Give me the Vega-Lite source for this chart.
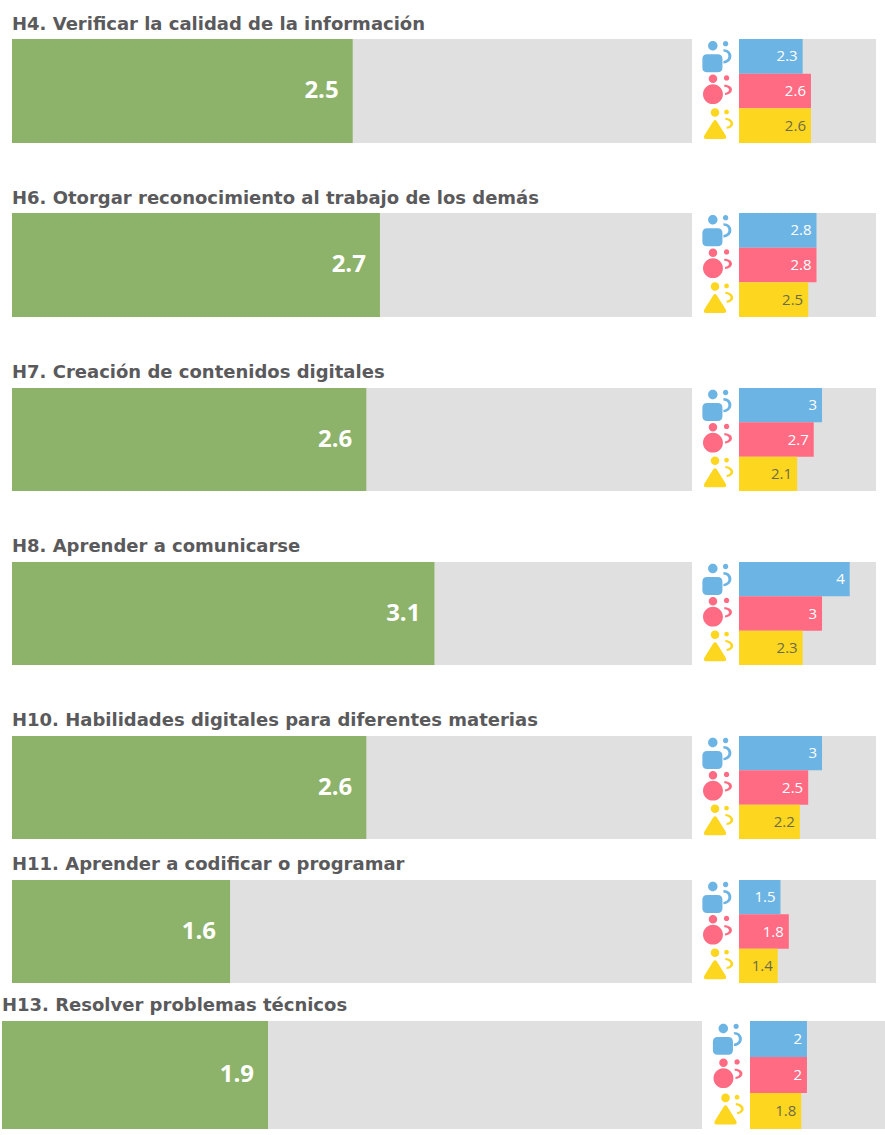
{"$schema":"https://vega.github.io/schema/vega-lite/v6.json","padding":{"left":2,"top":16,"right":0,"bottom":0},"background":"white",
"config":{"view":{"stroke":null},"title":{"anchor":"start","frame":"group","font":"DejaVu Sans","fontWeight":"bold","fontSize":18,"color":"#5a5a5c"}},
"datasets":{"general":[{"h":"H4","value":2.5},{"h":"H6","value":2.7},{"h":"H7","value":2.6},{"h":"H8","value":3.1},{"h":"H10","value":2.6},{"h":"H11","value":1.6},{"h":"H13","value":1.9}],
"grupos":[{"h":"H4","grupo":"azul","value":2.3},{"h":"H4","grupo":"rosa","value":2.6},{"h":"H4","grupo":"amarillo","value":2.6},{"h":"H6","grupo":"azul","value":2.8},{"h":"H6","grupo":"rosa","value":2.8},{"h":"H6","grupo":"amarillo","value":2.5},{"h":"H7","grupo":"azul","value":3},{"h":"H7","grupo":"rosa","value":2.7},{"h":"H7","grupo":"amarillo","value":2.1},{"h":"H8","grupo":"azul","value":4},{"h":"H8","grupo":"rosa","value":3},{"h":"H8","grupo":"amarillo","value":2.3},{"h":"H10","grupo":"azul","value":3},{"h":"H10","grupo":"rosa","value":2.5},{"h":"H10","grupo":"amarillo","value":2.2},{"h":"H11","grupo":"azul","value":1.5},{"h":"H11","grupo":"rosa","value":1.8},{"h":"H11","grupo":"amarillo","value":1.4},{"h":"H13","grupo":"azul","value":2},{"h":"H13","grupo":"rosa","value":2},{"h":"H13","grupo":"amarillo","value":1.8}]},
"spacing":17,
"vconcat":[
{"spacing":47,"vconcat":[
{"spacing":0,"hconcat":[
{"title":{"text":"H4. Verificar la calidad de la información","dx":10,"offset":5},"width":690,"height":104,"data":{"name":"general"},"transform":[{"filter":"datum.h==='H4'"}],"layer":[
{"mark":{"type":"rect","color":"#e0e0e0"},"encoding":{"x":{"datum":4.99,"type":"quantitative","axis":null,"scale":{"domain":[0,4.99],"range":[10,690]}},"x2":{"datum":0}}},
{"mark":{"type":"rect","color":"#8db26a"},"encoding":{"x":{"field":"value","type":"quantitative","axis":null,"scale":{"domain":[0,4.99],"range":[10,690]}},"x2":{"datum":0}}},
{"mark":{"type":"text","align":"right","dx":-14,"font":"Open Sans","fontWeight":"bold","fontSize":24,"color":"white"},"encoding":{"x":{"field":"value","type":"quantitative","axis":null,"scale":{"domain":[0,4.99],"range":[10,690]}},"text":{"field":"value","type":"quantitative"}}}]},
{"width":47,"height":104,"data":{"name":"grupos"},"transform":[{"filter":"datum.h==='H4'"}],"mark":{"type":"point","filled":true,"opacity":1,"size":1000},"encoding":{"y":{"field":"grupo","type":"nominal","axis":null,"scale":{"domain":["azul","rosa","amarillo"],"paddingInner":0,"paddingOuter":0}},"color":{"field":"grupo","type":"nominal","legend":null,"scale":{"domain":["azul","rosa","amarillo"],"range":["#6cb4e4","#ff6b83","#fdd71f"]}},"shape":{"field":"grupo","type":"nominal","legend":null,"scale":{"domain":["azul","rosa","amarillo"],"range":["M -.47 -.67 a .3 .3 0 1 0 .6 0 a .3 .3 0 1 0 -.6 0 Z M .47 -.8 a .17 .17 0 1 0 .34 0 a .17 .17 0 1 0 -.34 0 Z M -.53 -.13 L .14 -.13 Q .44 -.13 .44 .17 L .44 .7 Q .44 1 .14 1 L -.53 1 Q -.83 1 -.83 .7 L -.83 .17 Q -.83 -.13 -.53 -.13 Z M .5 -.45 C 1.15 -.45 1.2 .4 .5 .45 L .5 .3 C .95 .25 .9 -.3 .5 -.3 Z","M -.43 -.77 a .27 .27 0 1 0 .54 0 a .27 .27 0 1 0 -.54 0 Z M .53 -.83 a .17 .17 0 1 0 .34 0 a .17 .17 0 1 0 -.34 0 Z M -.79 .2 a .63 .63 0 1 0 1.26 0 a .63 .63 0 1 0 -1.26 0 Z M .55 -.4 C 1.2 -.4 1.2 .2 .6 .25 L .6 .12 C .95 .08 .95 -.25 .55 -.27 Z","M -.3 -.83 a .27 .27 0 1 0 .54 0 a .27 .27 0 1 0 -.54 0 Z M .55 -.87 a .15 .15 0 1 0 .3 0 a .15 .15 0 1 0 -.3 0 Z M -.13 -.3 Q -.03 -.42 .07 -.3 L .62 .58 Q .78 .85 .5 .85 L -.56 .85 Q -.84 .85 -.68 .58 Z M .62 -.5 C 1.25 -.45 1.3 .15 .7 .2 L .7 .07 C 1.05 .02 1.05 -.3 .62 -.37 Z"]}}}},
{"width":137,"height":104,"view":{"fill":"#e0e0e0","stroke":null},"data":{"name":"grupos"},"transform":[{"filter":"datum.h==='H4'"}],"encoding":{"y":{"field":"grupo","type":"nominal","axis":null,"scale":{"domain":["azul","rosa","amarillo"],"paddingInner":0,"paddingOuter":0}},"x":{"field":"value","type":"quantitative","axis":null,"scale":{"domain":[0,4.95]}}},"layer":[
{"mark":{"type":"bar"},"encoding":{"color":{"field":"grupo","type":"nominal","legend":null,"scale":{"domain":["azul","rosa","amarillo"],"range":["#6cb4e4","#ff6b83","#fdd71f"]}}}},
{"mark":{"type":"text","align":"right","dx":-5,"font":"Open Sans","fontSize":15},"encoding":{"text":{"field":"value","type":"quantitative"},"color":{"condition":{"test":"datum.grupo==='amarillo'","value":"#6e6b4a"},"value":"white"}}}]}]},
{"spacing":0,"hconcat":[
{"title":{"text":"H6. Otorgar reconocimiento al trabajo de los demás","dx":10,"offset":5},"width":690,"height":104,"data":{"name":"general"},"transform":[{"filter":"datum.h==='H6'"}],"layer":[
{"mark":{"type":"rect","color":"#e0e0e0"},"encoding":{"x":{"datum":4.99,"type":"quantitative","axis":null,"scale":{"domain":[0,4.99],"range":[10,690]}},"x2":{"datum":0}}},
{"mark":{"type":"rect","color":"#8db26a"},"encoding":{"x":{"field":"value","type":"quantitative","axis":null,"scale":{"domain":[0,4.99],"range":[10,690]}},"x2":{"datum":0}}},
{"mark":{"type":"text","align":"right","dx":-14,"font":"Open Sans","fontWeight":"bold","fontSize":24,"color":"white"},"encoding":{"x":{"field":"value","type":"quantitative","axis":null,"scale":{"domain":[0,4.99],"range":[10,690]}},"text":{"field":"value","type":"quantitative"}}}]},
{"width":47,"height":104,"data":{"name":"grupos"},"transform":[{"filter":"datum.h==='H6'"}],"mark":{"type":"point","filled":true,"opacity":1,"size":1000},"encoding":{"y":{"field":"grupo","type":"nominal","axis":null,"scale":{"domain":["azul","rosa","amarillo"],"paddingInner":0,"paddingOuter":0}},"color":{"field":"grupo","type":"nominal","legend":null,"scale":{"domain":["azul","rosa","amarillo"],"range":["#6cb4e4","#ff6b83","#fdd71f"]}},"shape":{"field":"grupo","type":"nominal","legend":null,"scale":{"domain":["azul","rosa","amarillo"],"range":["M -.47 -.67 a .3 .3 0 1 0 .6 0 a .3 .3 0 1 0 -.6 0 Z M .47 -.8 a .17 .17 0 1 0 .34 0 a .17 .17 0 1 0 -.34 0 Z M -.53 -.13 L .14 -.13 Q .44 -.13 .44 .17 L .44 .7 Q .44 1 .14 1 L -.53 1 Q -.83 1 -.83 .7 L -.83 .17 Q -.83 -.13 -.53 -.13 Z M .5 -.45 C 1.15 -.45 1.2 .4 .5 .45 L .5 .3 C .95 .25 .9 -.3 .5 -.3 Z","M -.43 -.77 a .27 .27 0 1 0 .54 0 a .27 .27 0 1 0 -.54 0 Z M .53 -.83 a .17 .17 0 1 0 .34 0 a .17 .17 0 1 0 -.34 0 Z M -.79 .2 a .63 .63 0 1 0 1.26 0 a .63 .63 0 1 0 -1.26 0 Z M .55 -.4 C 1.2 -.4 1.2 .2 .6 .25 L .6 .12 C .95 .08 .95 -.25 .55 -.27 Z","M -.3 -.83 a .27 .27 0 1 0 .54 0 a .27 .27 0 1 0 -.54 0 Z M .55 -.87 a .15 .15 0 1 0 .3 0 a .15 .15 0 1 0 -.3 0 Z M -.13 -.3 Q -.03 -.42 .07 -.3 L .62 .58 Q .78 .85 .5 .85 L -.56 .85 Q -.84 .85 -.68 .58 Z M .62 -.5 C 1.25 -.45 1.3 .15 .7 .2 L .7 .07 C 1.05 .02 1.05 -.3 .62 -.37 Z"]}}}},
{"width":137,"height":104,"view":{"fill":"#e0e0e0","stroke":null},"data":{"name":"grupos"},"transform":[{"filter":"datum.h==='H6'"}],"encoding":{"y":{"field":"grupo","type":"nominal","axis":null,"scale":{"domain":["azul","rosa","amarillo"],"paddingInner":0,"paddingOuter":0}},"x":{"field":"value","type":"quantitative","axis":null,"scale":{"domain":[0,4.95]}}},"layer":[
{"mark":{"type":"bar"},"encoding":{"color":{"field":"grupo","type":"nominal","legend":null,"scale":{"domain":["azul","rosa","amarillo"],"range":["#6cb4e4","#ff6b83","#fdd71f"]}}}},
{"mark":{"type":"text","align":"right","dx":-5,"font":"Open Sans","fontSize":15},"encoding":{"text":{"field":"value","type":"quantitative"},"color":{"condition":{"test":"datum.grupo==='amarillo'","value":"#6e6b4a"},"value":"white"}}}]}]},
{"spacing":0,"hconcat":[
{"title":{"text":"H7. Creación de contenidos digitales","dx":10,"offset":6},"width":690,"height":103,"data":{"name":"general"},"transform":[{"filter":"datum.h==='H7'"}],"layer":[
{"mark":{"type":"rect","color":"#e0e0e0"},"encoding":{"x":{"datum":4.99,"type":"quantitative","axis":null,"scale":{"domain":[0,4.99],"range":[10,690]}},"x2":{"datum":0}}},
{"mark":{"type":"rect","color":"#8db26a"},"encoding":{"x":{"field":"value","type":"quantitative","axis":null,"scale":{"domain":[0,4.99],"range":[10,690]}},"x2":{"datum":0}}},
{"mark":{"type":"text","align":"right","dx":-14,"font":"Open Sans","fontWeight":"bold","fontSize":24,"color":"white"},"encoding":{"x":{"field":"value","type":"quantitative","axis":null,"scale":{"domain":[0,4.99],"range":[10,690]}},"text":{"field":"value","type":"quantitative"}}}]},
{"width":47,"height":103,"data":{"name":"grupos"},"transform":[{"filter":"datum.h==='H7'"}],"mark":{"type":"point","filled":true,"opacity":1,"size":1000},"encoding":{"y":{"field":"grupo","type":"nominal","axis":null,"scale":{"domain":["azul","rosa","amarillo"],"paddingInner":0,"paddingOuter":0}},"color":{"field":"grupo","type":"nominal","legend":null,"scale":{"domain":["azul","rosa","amarillo"],"range":["#6cb4e4","#ff6b83","#fdd71f"]}},"shape":{"field":"grupo","type":"nominal","legend":null,"scale":{"domain":["azul","rosa","amarillo"],"range":["M -.47 -.67 a .3 .3 0 1 0 .6 0 a .3 .3 0 1 0 -.6 0 Z M .47 -.8 a .17 .17 0 1 0 .34 0 a .17 .17 0 1 0 -.34 0 Z M -.53 -.13 L .14 -.13 Q .44 -.13 .44 .17 L .44 .7 Q .44 1 .14 1 L -.53 1 Q -.83 1 -.83 .7 L -.83 .17 Q -.83 -.13 -.53 -.13 Z M .5 -.45 C 1.15 -.45 1.2 .4 .5 .45 L .5 .3 C .95 .25 .9 -.3 .5 -.3 Z","M -.43 -.77 a .27 .27 0 1 0 .54 0 a .27 .27 0 1 0 -.54 0 Z M .53 -.83 a .17 .17 0 1 0 .34 0 a .17 .17 0 1 0 -.34 0 Z M -.79 .2 a .63 .63 0 1 0 1.26 0 a .63 .63 0 1 0 -1.26 0 Z M .55 -.4 C 1.2 -.4 1.2 .2 .6 .25 L .6 .12 C .95 .08 .95 -.25 .55 -.27 Z","M -.3 -.83 a .27 .27 0 1 0 .54 0 a .27 .27 0 1 0 -.54 0 Z M .55 -.87 a .15 .15 0 1 0 .3 0 a .15 .15 0 1 0 -.3 0 Z M -.13 -.3 Q -.03 -.42 .07 -.3 L .62 .58 Q .78 .85 .5 .85 L -.56 .85 Q -.84 .85 -.68 .58 Z M .62 -.5 C 1.25 -.45 1.3 .15 .7 .2 L .7 .07 C 1.05 .02 1.05 -.3 .62 -.37 Z"]}}}},
{"width":137,"height":103,"view":{"fill":"#e0e0e0","stroke":null},"data":{"name":"grupos"},"transform":[{"filter":"datum.h==='H7'"}],"encoding":{"y":{"field":"grupo","type":"nominal","axis":null,"scale":{"domain":["azul","rosa","amarillo"],"paddingInner":0,"paddingOuter":0}},"x":{"field":"value","type":"quantitative","axis":null,"scale":{"domain":[0,4.95]}}},"layer":[
{"mark":{"type":"bar"},"encoding":{"color":{"field":"grupo","type":"nominal","legend":null,"scale":{"domain":["azul","rosa","amarillo"],"range":["#6cb4e4","#ff6b83","#fdd71f"]}}}},
{"mark":{"type":"text","align":"right","dx":-5,"font":"Open Sans","fontSize":15},"encoding":{"text":{"field":"value","type":"quantitative"},"color":{"condition":{"test":"datum.grupo==='amarillo'","value":"#6e6b4a"},"value":"white"}}}]}]},
{"spacing":0,"hconcat":[
{"title":{"text":"H8. Aprender a comunicarse","dx":10,"offset":6},"width":690,"height":103,"data":{"name":"general"},"transform":[{"filter":"datum.h==='H8'"}],"layer":[
{"mark":{"type":"rect","color":"#e0e0e0"},"encoding":{"x":{"datum":4.99,"type":"quantitative","axis":null,"scale":{"domain":[0,4.99],"range":[10,690]}},"x2":{"datum":0}}},
{"mark":{"type":"rect","color":"#8db26a"},"encoding":{"x":{"field":"value","type":"quantitative","axis":null,"scale":{"domain":[0,4.99],"range":[10,690]}},"x2":{"datum":0}}},
{"mark":{"type":"text","align":"right","dx":-14,"font":"Open Sans","fontWeight":"bold","fontSize":24,"color":"white"},"encoding":{"x":{"field":"value","type":"quantitative","axis":null,"scale":{"domain":[0,4.99],"range":[10,690]}},"text":{"field":"value","type":"quantitative"}}}]},
{"width":47,"height":103,"data":{"name":"grupos"},"transform":[{"filter":"datum.h==='H8'"}],"mark":{"type":"point","filled":true,"opacity":1,"size":1000},"encoding":{"y":{"field":"grupo","type":"nominal","axis":null,"scale":{"domain":["azul","rosa","amarillo"],"paddingInner":0,"paddingOuter":0}},"color":{"field":"grupo","type":"nominal","legend":null,"scale":{"domain":["azul","rosa","amarillo"],"range":["#6cb4e4","#ff6b83","#fdd71f"]}},"shape":{"field":"grupo","type":"nominal","legend":null,"scale":{"domain":["azul","rosa","amarillo"],"range":["M -.47 -.67 a .3 .3 0 1 0 .6 0 a .3 .3 0 1 0 -.6 0 Z M .47 -.8 a .17 .17 0 1 0 .34 0 a .17 .17 0 1 0 -.34 0 Z M -.53 -.13 L .14 -.13 Q .44 -.13 .44 .17 L .44 .7 Q .44 1 .14 1 L -.53 1 Q -.83 1 -.83 .7 L -.83 .17 Q -.83 -.13 -.53 -.13 Z M .5 -.45 C 1.15 -.45 1.2 .4 .5 .45 L .5 .3 C .95 .25 .9 -.3 .5 -.3 Z","M -.43 -.77 a .27 .27 0 1 0 .54 0 a .27 .27 0 1 0 -.54 0 Z M .53 -.83 a .17 .17 0 1 0 .34 0 a .17 .17 0 1 0 -.34 0 Z M -.79 .2 a .63 .63 0 1 0 1.26 0 a .63 .63 0 1 0 -1.26 0 Z M .55 -.4 C 1.2 -.4 1.2 .2 .6 .25 L .6 .12 C .95 .08 .95 -.25 .55 -.27 Z","M -.3 -.83 a .27 .27 0 1 0 .54 0 a .27 .27 0 1 0 -.54 0 Z M .55 -.87 a .15 .15 0 1 0 .3 0 a .15 .15 0 1 0 -.3 0 Z M -.13 -.3 Q -.03 -.42 .07 -.3 L .62 .58 Q .78 .85 .5 .85 L -.56 .85 Q -.84 .85 -.68 .58 Z M .62 -.5 C 1.25 -.45 1.3 .15 .7 .2 L .7 .07 C 1.05 .02 1.05 -.3 .62 -.37 Z"]}}}},
{"width":137,"height":103,"view":{"fill":"#e0e0e0","stroke":null},"data":{"name":"grupos"},"transform":[{"filter":"datum.h==='H8'"}],"encoding":{"y":{"field":"grupo","type":"nominal","axis":null,"scale":{"domain":["azul","rosa","amarillo"],"paddingInner":0,"paddingOuter":0}},"x":{"field":"value","type":"quantitative","axis":null,"scale":{"domain":[0,4.95]}}},"layer":[
{"mark":{"type":"bar"},"encoding":{"color":{"field":"grupo","type":"nominal","legend":null,"scale":{"domain":["azul","rosa","amarillo"],"range":["#6cb4e4","#ff6b83","#fdd71f"]}}}},
{"mark":{"type":"text","align":"right","dx":-5,"font":"Open Sans","fontSize":15},"encoding":{"text":{"field":"value","type":"quantitative"},"color":{"condition":{"test":"datum.grupo==='amarillo'","value":"#6e6b4a"},"value":"white"}}}]}]},
{"spacing":0,"hconcat":[
{"title":{"text":"H10. Habilidades digitales para diferentes materias","dx":10,"offset":6},"width":690,"height":103,"data":{"name":"general"},"transform":[{"filter":"datum.h==='H10'"}],"layer":[
{"mark":{"type":"rect","color":"#e0e0e0"},"encoding":{"x":{"datum":4.99,"type":"quantitative","axis":null,"scale":{"domain":[0,4.99],"range":[10,690]}},"x2":{"datum":0}}},
{"mark":{"type":"rect","color":"#8db26a"},"encoding":{"x":{"field":"value","type":"quantitative","axis":null,"scale":{"domain":[0,4.99],"range":[10,690]}},"x2":{"datum":0}}},
{"mark":{"type":"text","align":"right","dx":-14,"font":"Open Sans","fontWeight":"bold","fontSize":24,"color":"white"},"encoding":{"x":{"field":"value","type":"quantitative","axis":null,"scale":{"domain":[0,4.99],"range":[10,690]}},"text":{"field":"value","type":"quantitative"}}}]},
{"width":47,"height":103,"data":{"name":"grupos"},"transform":[{"filter":"datum.h==='H10'"}],"mark":{"type":"point","filled":true,"opacity":1,"size":1000},"encoding":{"y":{"field":"grupo","type":"nominal","axis":null,"scale":{"domain":["azul","rosa","amarillo"],"paddingInner":0,"paddingOuter":0}},"color":{"field":"grupo","type":"nominal","legend":null,"scale":{"domain":["azul","rosa","amarillo"],"range":["#6cb4e4","#ff6b83","#fdd71f"]}},"shape":{"field":"grupo","type":"nominal","legend":null,"scale":{"domain":["azul","rosa","amarillo"],"range":["M -.47 -.67 a .3 .3 0 1 0 .6 0 a .3 .3 0 1 0 -.6 0 Z M .47 -.8 a .17 .17 0 1 0 .34 0 a .17 .17 0 1 0 -.34 0 Z M -.53 -.13 L .14 -.13 Q .44 -.13 .44 .17 L .44 .7 Q .44 1 .14 1 L -.53 1 Q -.83 1 -.83 .7 L -.83 .17 Q -.83 -.13 -.53 -.13 Z M .5 -.45 C 1.15 -.45 1.2 .4 .5 .45 L .5 .3 C .95 .25 .9 -.3 .5 -.3 Z","M -.43 -.77 a .27 .27 0 1 0 .54 0 a .27 .27 0 1 0 -.54 0 Z M .53 -.83 a .17 .17 0 1 0 .34 0 a .17 .17 0 1 0 -.34 0 Z M -.79 .2 a .63 .63 0 1 0 1.26 0 a .63 .63 0 1 0 -1.26 0 Z M .55 -.4 C 1.2 -.4 1.2 .2 .6 .25 L .6 .12 C .95 .08 .95 -.25 .55 -.27 Z","M -.3 -.83 a .27 .27 0 1 0 .54 0 a .27 .27 0 1 0 -.54 0 Z M .55 -.87 a .15 .15 0 1 0 .3 0 a .15 .15 0 1 0 -.3 0 Z M -.13 -.3 Q -.03 -.42 .07 -.3 L .62 .58 Q .78 .85 .5 .85 L -.56 .85 Q -.84 .85 -.68 .58 Z M .62 -.5 C 1.25 -.45 1.3 .15 .7 .2 L .7 .07 C 1.05 .02 1.05 -.3 .62 -.37 Z"]}}}},
{"width":137,"height":103,"view":{"fill":"#e0e0e0","stroke":null},"data":{"name":"grupos"},"transform":[{"filter":"datum.h==='H10'"}],"encoding":{"y":{"field":"grupo","type":"nominal","axis":null,"scale":{"domain":["azul","rosa","amarillo"],"paddingInner":0,"paddingOuter":0}},"x":{"field":"value","type":"quantitative","axis":null,"scale":{"domain":[0,4.95]}}},"layer":[
{"mark":{"type":"bar"},"encoding":{"color":{"field":"grupo","type":"nominal","legend":null,"scale":{"domain":["azul","rosa","amarillo"],"range":["#6cb4e4","#ff6b83","#fdd71f"]}}}},
{"mark":{"type":"text","align":"right","dx":-5,"font":"Open Sans","fontSize":15},"encoding":{"text":{"field":"value","type":"quantitative"},"color":{"condition":{"test":"datum.grupo==='amarillo'","value":"#6e6b4a"},"value":"white"}}}]}]}
]},
{"spacing":14,"vconcat":[
{"spacing":0,"hconcat":[
{"title":{"text":"H11. Aprender a codificar o programar","dx":10,"offset":6},"width":690,"height":103,"data":{"name":"general"},"transform":[{"filter":"datum.h==='H11'"}],"layer":[
{"mark":{"type":"rect","color":"#e0e0e0"},"encoding":{"x":{"datum":4.99,"type":"quantitative","axis":null,"scale":{"domain":[0,4.99],"range":[10,690]}},"x2":{"datum":0}}},
{"mark":{"type":"rect","color":"#8db26a"},"encoding":{"x":{"field":"value","type":"quantitative","axis":null,"scale":{"domain":[0,4.99],"range":[10,690]}},"x2":{"datum":0}}},
{"mark":{"type":"text","align":"right","dx":-14,"font":"Open Sans","fontWeight":"bold","fontSize":24,"color":"white"},"encoding":{"x":{"field":"value","type":"quantitative","axis":null,"scale":{"domain":[0,4.99],"range":[10,690]}},"text":{"field":"value","type":"quantitative"}}}]},
{"width":47,"height":103,"data":{"name":"grupos"},"transform":[{"filter":"datum.h==='H11'"}],"mark":{"type":"point","filled":true,"opacity":1,"size":1000},"encoding":{"y":{"field":"grupo","type":"nominal","axis":null,"scale":{"domain":["azul","rosa","amarillo"],"paddingInner":0,"paddingOuter":0}},"color":{"field":"grupo","type":"nominal","legend":null,"scale":{"domain":["azul","rosa","amarillo"],"range":["#6cb4e4","#ff6b83","#fdd71f"]}},"shape":{"field":"grupo","type":"nominal","legend":null,"scale":{"domain":["azul","rosa","amarillo"],"range":["M -.47 -.67 a .3 .3 0 1 0 .6 0 a .3 .3 0 1 0 -.6 0 Z M .47 -.8 a .17 .17 0 1 0 .34 0 a .17 .17 0 1 0 -.34 0 Z M -.53 -.13 L .14 -.13 Q .44 -.13 .44 .17 L .44 .7 Q .44 1 .14 1 L -.53 1 Q -.83 1 -.83 .7 L -.83 .17 Q -.83 -.13 -.53 -.13 Z M .5 -.45 C 1.15 -.45 1.2 .4 .5 .45 L .5 .3 C .95 .25 .9 -.3 .5 -.3 Z","M -.43 -.77 a .27 .27 0 1 0 .54 0 a .27 .27 0 1 0 -.54 0 Z M .53 -.83 a .17 .17 0 1 0 .34 0 a .17 .17 0 1 0 -.34 0 Z M -.79 .2 a .63 .63 0 1 0 1.26 0 a .63 .63 0 1 0 -1.26 0 Z M .55 -.4 C 1.2 -.4 1.2 .2 .6 .25 L .6 .12 C .95 .08 .95 -.25 .55 -.27 Z","M -.3 -.83 a .27 .27 0 1 0 .54 0 a .27 .27 0 1 0 -.54 0 Z M .55 -.87 a .15 .15 0 1 0 .3 0 a .15 .15 0 1 0 -.3 0 Z M -.13 -.3 Q -.03 -.42 .07 -.3 L .62 .58 Q .78 .85 .5 .85 L -.56 .85 Q -.84 .85 -.68 .58 Z M .62 -.5 C 1.25 -.45 1.3 .15 .7 .2 L .7 .07 C 1.05 .02 1.05 -.3 .62 -.37 Z"]}}}},
{"width":137,"height":103,"view":{"fill":"#e0e0e0","stroke":null},"data":{"name":"grupos"},"transform":[{"filter":"datum.h==='H11'"}],"encoding":{"y":{"field":"grupo","type":"nominal","axis":null,"scale":{"domain":["azul","rosa","amarillo"],"paddingInner":0,"paddingOuter":0}},"x":{"field":"value","type":"quantitative","axis":null,"scale":{"domain":[0,4.95]}}},"layer":[
{"mark":{"type":"bar"},"encoding":{"color":{"field":"grupo","type":"nominal","legend":null,"scale":{"domain":["azul","rosa","amarillo"],"range":["#6cb4e4","#ff6b83","#fdd71f"]}}}},
{"mark":{"type":"text","align":"right","dx":-5,"font":"Open Sans","fontSize":15},"encoding":{"text":{"field":"value","type":"quantitative"},"color":{"condition":{"test":"datum.grupo==='amarillo'","value":"#6e6b4a"},"value":"white"}}}]}]},
{"spacing":0,"hconcat":[
{"title":{"text":"H13. Resolver problemas técnicos","offset":6},"width":700,"height":108,"data":{"name":"general"},"transform":[{"filter":"datum.h==='H13'"}],"layer":[
{"mark":{"type":"rect","color":"#e0e0e0"},"encoding":{"x":{"datum":5,"type":"quantitative","axis":null,"scale":{"domain":[0,5],"range":[0,700]}},"x2":{"datum":0}}},
{"mark":{"type":"rect","color":"#8db26a"},"encoding":{"x":{"field":"value","type":"quantitative","axis":null,"scale":{"domain":[0,5],"range":[0,700]}},"x2":{"datum":0}}},
{"mark":{"type":"text","align":"right","dx":-14,"font":"Open Sans","fontWeight":"bold","fontSize":24,"color":"white"},"encoding":{"x":{"field":"value","type":"quantitative","axis":null,"scale":{"domain":[0,5],"range":[0,700]}},"text":{"field":"value","type":"quantitative"}}}]},
{"width":48,"height":108,"data":{"name":"grupos"},"transform":[{"filter":"datum.h==='H13'"}],"mark":{"type":"point","filled":true,"opacity":1,"size":1000},"encoding":{"y":{"field":"grupo","type":"nominal","axis":null,"scale":{"domain":["azul","rosa","amarillo"],"paddingInner":0,"paddingOuter":0}},"color":{"field":"grupo","type":"nominal","legend":null,"scale":{"domain":["azul","rosa","amarillo"],"range":["#6cb4e4","#ff6b83","#fdd71f"]}},"shape":{"field":"grupo","type":"nominal","legend":null,"scale":{"domain":["azul","rosa","amarillo"],"range":["M -.47 -.67 a .3 .3 0 1 0 .6 0 a .3 .3 0 1 0 -.6 0 Z M .47 -.8 a .17 .17 0 1 0 .34 0 a .17 .17 0 1 0 -.34 0 Z M -.53 -.13 L .14 -.13 Q .44 -.13 .44 .17 L .44 .7 Q .44 1 .14 1 L -.53 1 Q -.83 1 -.83 .7 L -.83 .17 Q -.83 -.13 -.53 -.13 Z M .5 -.45 C 1.15 -.45 1.2 .4 .5 .45 L .5 .3 C .95 .25 .9 -.3 .5 -.3 Z","M -.43 -.77 a .27 .27 0 1 0 .54 0 a .27 .27 0 1 0 -.54 0 Z M .53 -.83 a .17 .17 0 1 0 .34 0 a .17 .17 0 1 0 -.34 0 Z M -.79 .2 a .63 .63 0 1 0 1.26 0 a .63 .63 0 1 0 -1.26 0 Z M .55 -.4 C 1.2 -.4 1.2 .2 .6 .25 L .6 .12 C .95 .08 .95 -.25 .55 -.27 Z","M -.3 -.83 a .27 .27 0 1 0 .54 0 a .27 .27 0 1 0 -.54 0 Z M .55 -.87 a .15 .15 0 1 0 .3 0 a .15 .15 0 1 0 -.3 0 Z M -.13 -.3 Q -.03 -.42 .07 -.3 L .62 .58 Q .78 .85 .5 .85 L -.56 .85 Q -.84 .85 -.68 .58 Z M .62 -.5 C 1.25 -.45 1.3 .15 .7 .2 L .7 .07 C 1.05 .02 1.05 -.3 .62 -.37 Z"]}}}},
{"width":135,"height":108,"view":{"fill":"#e0e0e0","stroke":null},"data":{"name":"grupos"},"transform":[{"filter":"datum.h==='H13'"}],"encoding":{"y":{"field":"grupo","type":"nominal","axis":null,"scale":{"domain":["azul","rosa","amarillo"],"paddingInner":0,"paddingOuter":0}},"x":{"field":"value","type":"quantitative","axis":null,"scale":{"domain":[0,4.74]}}},"layer":[
{"mark":{"type":"bar"},"encoding":{"color":{"field":"grupo","type":"nominal","legend":null,"scale":{"domain":["azul","rosa","amarillo"],"range":["#6cb4e4","#ff6b83","#fdd71f"]}}}},
{"mark":{"type":"text","align":"right","dx":-5,"font":"Open Sans","fontSize":15},"encoding":{"text":{"field":"value","type":"quantitative"},"color":{"condition":{"test":"datum.grupo==='amarillo'","value":"#6e6b4a"},"value":"white"}}}]}]}
]}
]}
